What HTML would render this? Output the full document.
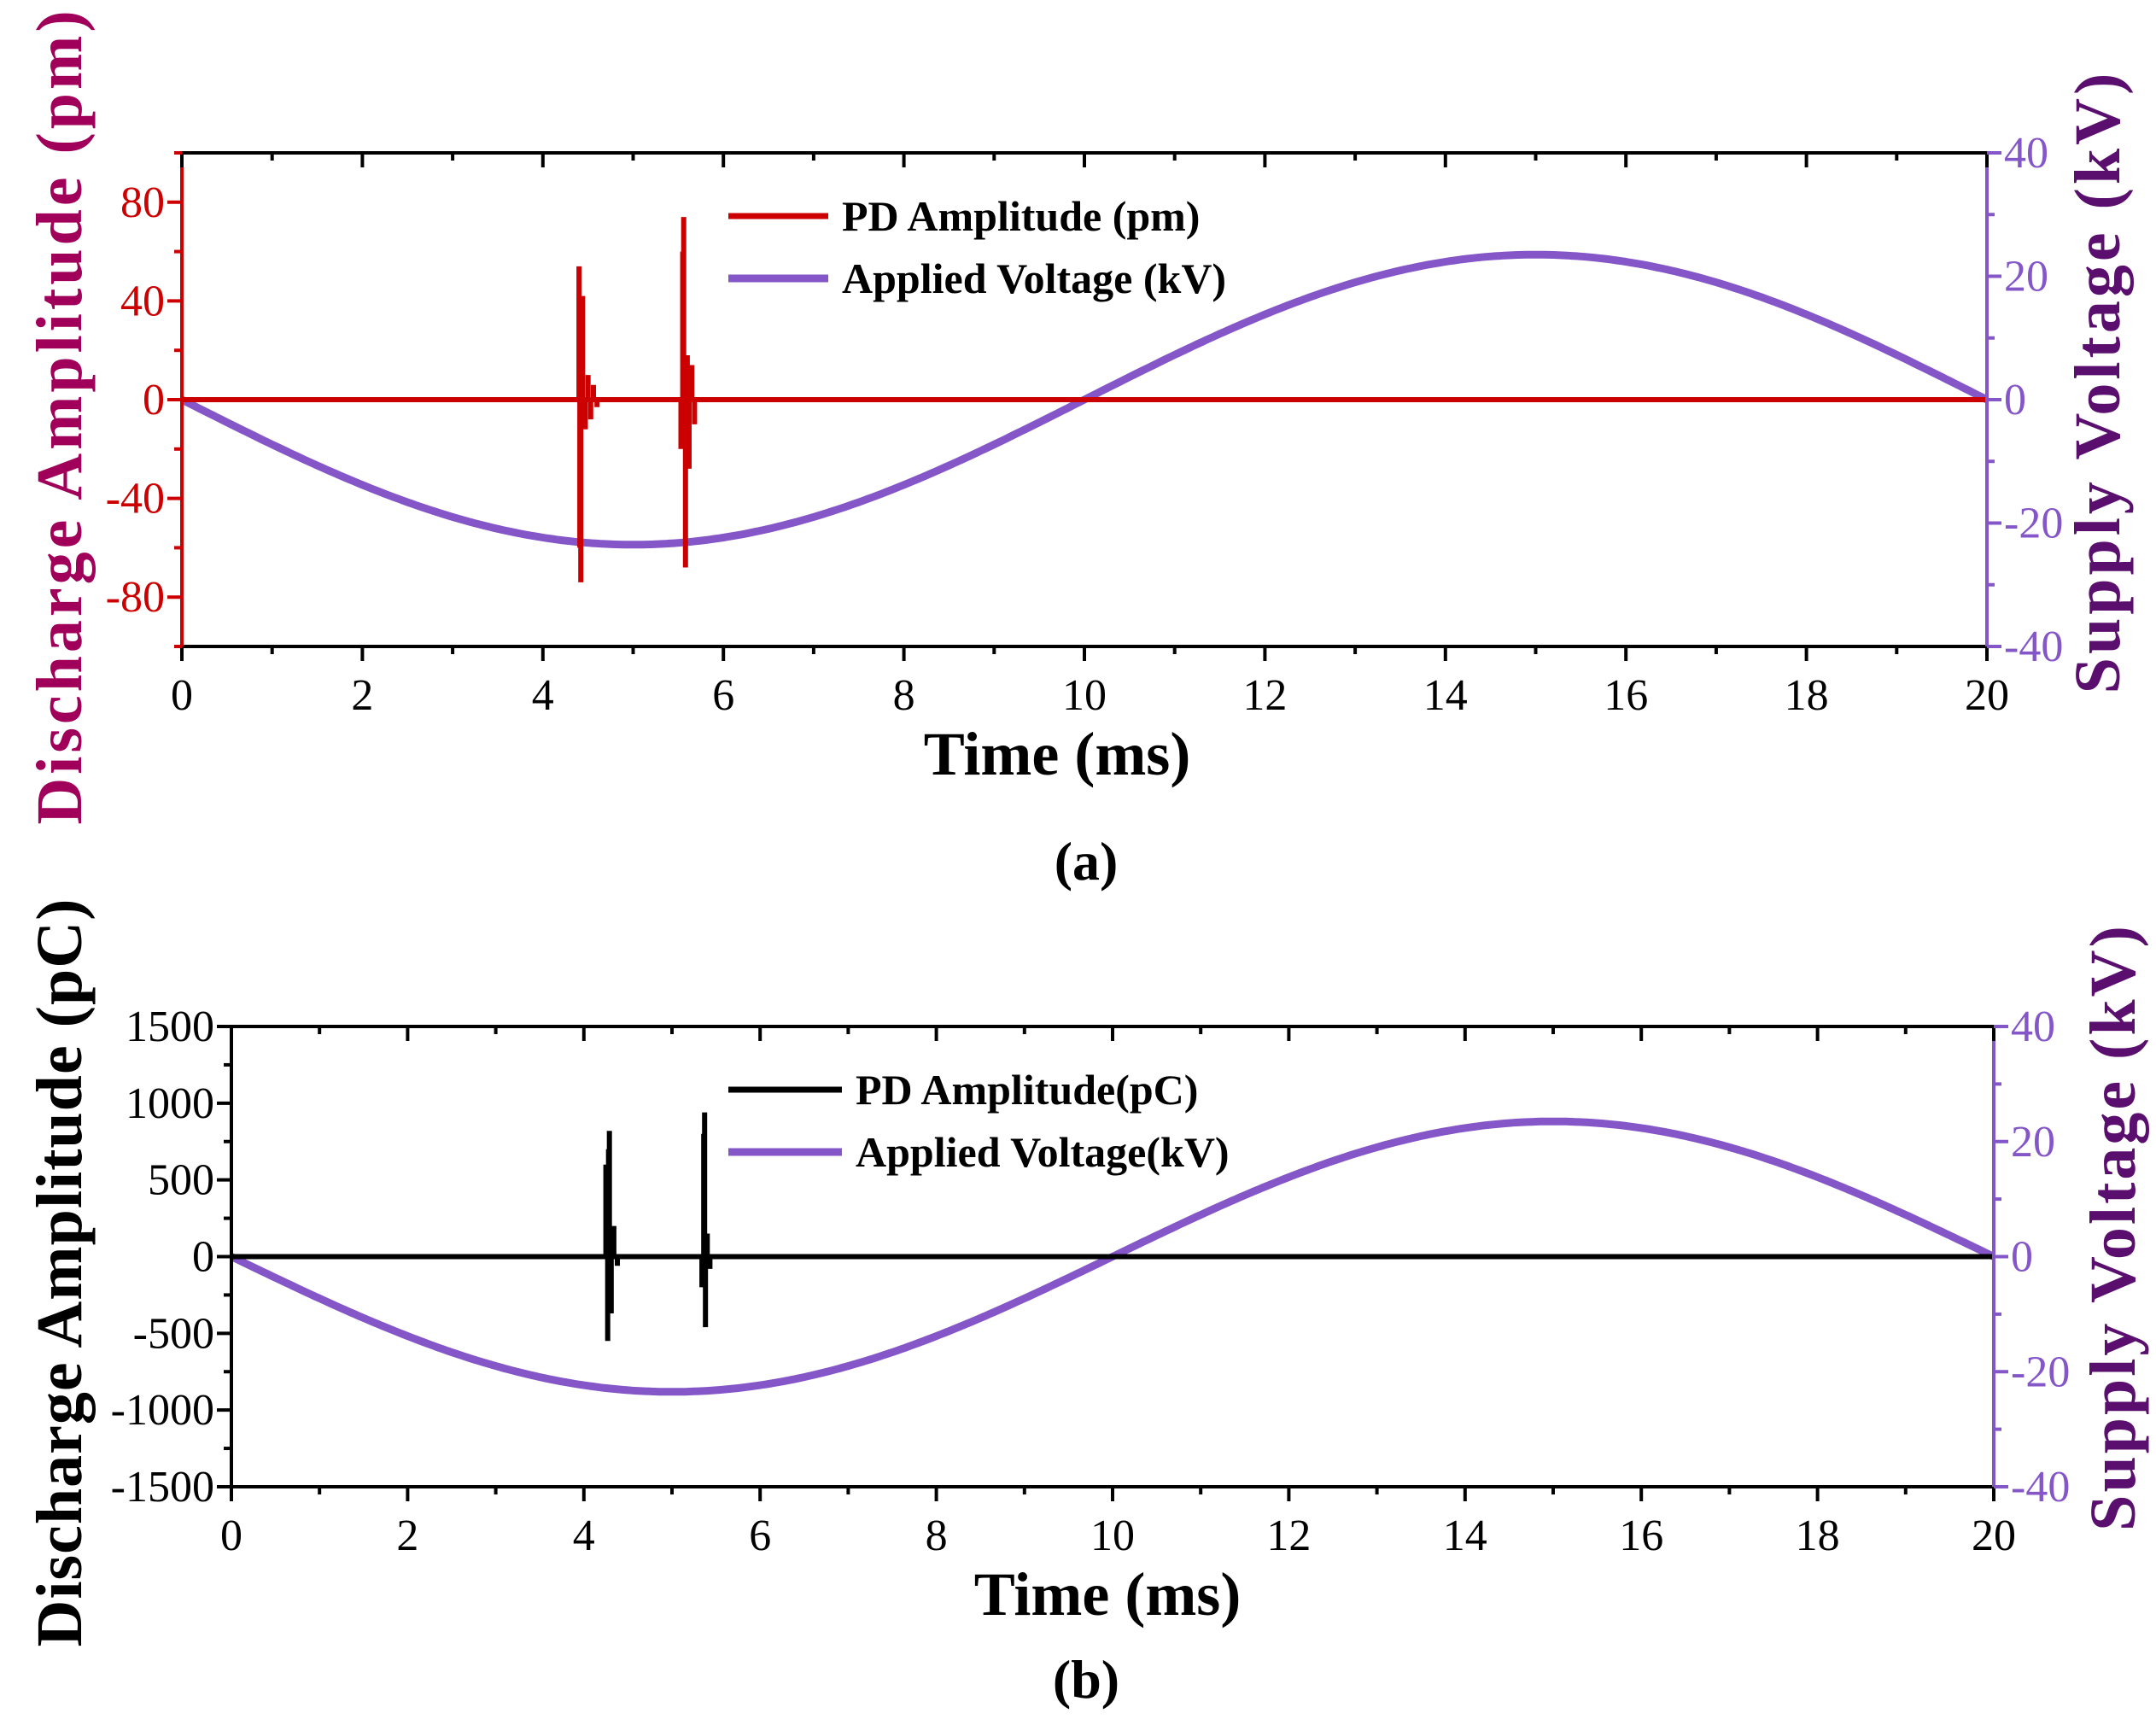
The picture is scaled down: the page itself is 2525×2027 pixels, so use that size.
<!DOCTYPE html>
<html><head><meta charset="utf-8"><style>
html,body{margin:0;padding:0;background:#fff;width:2525px;height:2027px;overflow:hidden}
svg text{font-family:"Liberation Serif",serif}
</style></head><body>
<svg id="chart" width="2525" height="2027" viewBox="0 0 2525 2027" xmlns="http://www.w3.org/2000/svg"></svg>
<script>
const timeTicks=[0,2,4,6,8,10,12,14,16,18,20];
const ampTicksA=[-80,-40,0,40,80];
const ampTicksB=[-1500,-1000,-500,0,500,1000,1500];
const voltTicks=[-40,-20,0,20,40];
const voltPeak=23.5;
const burstTimesA=[4.40,4.41,4.42,4.44,4.47,4.50,4.53,4.56,4.60,5.53,5.55,5.56,5.58,5.60,5.62,5.65,5.68];
const burstValsA=[54,-60,-74,42,-12,10,-8,6,-3,-20,60,74,-68,18,-28,14,-10];
const burstTimesB=[4.25,4.27,4.28,4.29,4.31,4.34,4.38,5.34,5.36,5.37,5.38,5.40,5.43];
const burstValsB=[600,-550,700,820,-370,200,-60,-200,800,940,-460,150,-80];
const S='http://www.w3.org/2000/svg';
const svg=document.getElementById('chart');
function el(t,a,p){const e=document.createElementNS(S,t);for(const k in a)e.setAttribute(k,a[k]);(p||svg).appendChild(e);return e;}
function txt(s,a,p){const e=el('text',a,p);e.textContent=s;return e;}
function panel(cfg){
 const g=el('g',{});
 
 
 const X=t=>cfg.L+(t-0)/20*(cfg.R-cfg.L);
 const Y=v=>cfg.B-(v-cfg.ymin)/(cfg.ymax-cfg.ymin)*(cfg.B-cfg.T);
 const YV=v=>cfg.B-(v+40)/80*(cfg.B-cfg.T);
 let d='';for(let i=0;i<=400;i++){const t=i/20;d+=(i?'L':'M')+X(t).toFixed(1)+','+YV(-voltPeak*Math.sin(2*Math.PI*t/20)).toFixed(1);}
 const vl=el('path',{d:d,fill:'none',stroke:'#8456c8','stroke-width':9},g);
 
 
 const z=Y(0);
 const bl=el('line',{x1:X(0),x2:X(20),y1:z,y2:z,stroke:cfg.pd,'stroke-width':6},g);
 
 
 let pd='';cfg.bt.forEach((t,i)=>{pd+='M'+X(t).toFixed(1)+','+z+'L'+X(t).toFixed(1)+','+Y(cfg.bv[i]).toFixed(1);});
 const sp=el('path',{d:pd,fill:'none',stroke:cfg.pd,'stroke-width':6},g);
 
 
 el('line',{x1:cfg.L,x2:cfg.R,y1:cfg.T,y2:cfg.T,stroke:'#000','stroke-width':4},g);
 el('line',{x1:cfg.L,x2:cfg.R,y1:cfg.B,y2:cfg.B,stroke:'#000','stroke-width':4},g);
 el('line',{x1:cfg.L,x2:cfg.L,y1:cfg.T,y2:cfg.B,stroke:cfg.lc,'stroke-width':4},g);
 el('line',{x1:cfg.R,x2:cfg.R,y1:cfg.T,y2:cfg.B,stroke:'#8456c8','stroke-width':4},g);
 for(let t=0;t<=20;t++){const L=t%2?9:17;
  el('line',{x1:X(t),x2:X(t),y1:cfg.B,y2:cfg.B+L,stroke:'#000','stroke-width':4},g);
  el('line',{x1:X(t),x2:X(t),y1:cfg.T,y2:cfg.T+L,stroke:'#000','stroke-width':4},g);}
 timeTicks.forEach(t=>{const e=txt(String(t),{x:X(t),y:cfg.B+74,'text-anchor':'middle','font-size':52,fill:'#000'},g);
  
  });
 const step=(cfg.ymax-cfg.ymin)/(cfg.ticks.length-1)/2;
 if(cfg.name==='panel-a'){for(let v=-100;v<=100;v+=20)el('line',{x1:cfg.L-(v%40===0&&Math.abs(v)!==100?17:9),x2:cfg.L,y1:Y(v),y2:Y(v),stroke:cfg.lc,'stroke-width':4},g);}
 else{for(let v=cfg.ymin;v<=cfg.ymax+1e-9;v+=step){const maj=cfg.ticks.some(u=>Math.abs(u-v)<1e-6);
  el('line',{x1:cfg.L-(maj?17:9),x2:cfg.L,y1:Y(v),y2:Y(v),stroke:cfg.lc,'stroke-width':4},g);}}
 cfg.ticks.forEach(v=>{const e=txt(String(v),{x:cfg.L-20,y:Y(v)+17,'text-anchor':'end','font-size':52,fill:cfg.tc},g);
  
  });
 for(let v=-40;v<=40;v+=10){el('line',{x1:cfg.R,x2:cfg.R+(v%20===0?17:9),y1:YV(v),y2:YV(v),stroke:'#8456c8','stroke-width':4},g);}
 voltTicks.forEach(v=>{const e=txt(String(v),{x:cfg.R+20,y:YV(v)+17,'font-size':52,fill:'#8456c8'},g);
  
  });
 const xt=txt('Time (ms)',{x:cfg.xtx,y:cfg.B+150,'text-anchor':'middle','font-size':72,'font-weight':'bold',fill:'#000'},g);
 
 
 const lt=txt(cfg.ltitle,{x:0,y:0,'text-anchor':'middle','font-size':76,'font-weight':'bold','letter-spacing':cfg.lls,fill:cfg.ltc,transform:`translate(${cfg.lx},${cfg.ly}) rotate(-90)`},g);
 
 
 const rt=txt('Supply Voltage (kV)',{x:0,y:0,'text-anchor':'middle','font-size':76,'font-weight':'bold','letter-spacing':cfg.rls,fill:'#5a0f6e',transform:`translate(${cfg.rx},${cfg.ry}) rotate(-90)`},g);
 
 
 const lg=el('g',{},g);
 
 
 el('line',{x1:cfg.lgx,x2:cfg.lgx2,y1:cfg.lgy,y2:cfg.lgy,stroke:cfg.pd,'stroke-width':7},lg);
 el('line',{x1:cfg.lgx,x2:cfg.lgx2,y1:cfg.lgy+73,y2:cfg.lgy+73,stroke:'#8456c8','stroke-width':9},lg);
 txt(cfg.lg1,{x:cfg.lgx2+16,y:cfg.lgy+17,'font-size':50,'font-weight':'bold',fill:'#000'},lg);
 txt(cfg.lg2,{x:cfg.lgx2+16,y:cfg.lgy+90,'font-size':50,'font-weight':'bold',fill:'#000'},lg);
 const cap=txt(cfg.cap,{x:1272,y:cfg.capy,'text-anchor':'middle','font-size':64,'font-weight':'bold',fill:'#000'},g);
 
 
}
panel({name:'panel-a',L:213,R:2327,T:179,B:757,ymin:-100,ymax:100,ticks:ampTicksA,bt:burstTimesA,bv:burstValsA,pd:'#cc0000',lc:'#cc0000',tc:'#cc0000',ltc:'#a0005a',ltitle:'Discharge Amplitude (pm)',lls:4,lx:95,ly:487,rls:4,rx:2482,ry:447,xtx:1238,lgx:853,lgx2:970,lgy:253,lg1:'PD Amplitude (pm)',lg2:'Applied Voltage (kV)',cap:'(a)',capy:1030});
panel({name:'panel-b',L:271,R:2335,T:1202,B:1741,ymin:-1500,ymax:1500,ticks:ampTicksB,bt:burstTimesB,bv:burstValsB,pd:'#000',lc:'#000',tc:'#000',ltc:'#000',ltitle:'Discharge Amplitude (pC)',lls:1,lx:95,ly:1490,rls:3,rx:2500,ry:1437,xtx:1297,lgx:853,lgx2:986,lgy:1276,lg1:'PD Amplitude(pC)',lg2:'Applied Voltage(kV)',cap:'(b)',capy:1988});
</script>
</body></html>
